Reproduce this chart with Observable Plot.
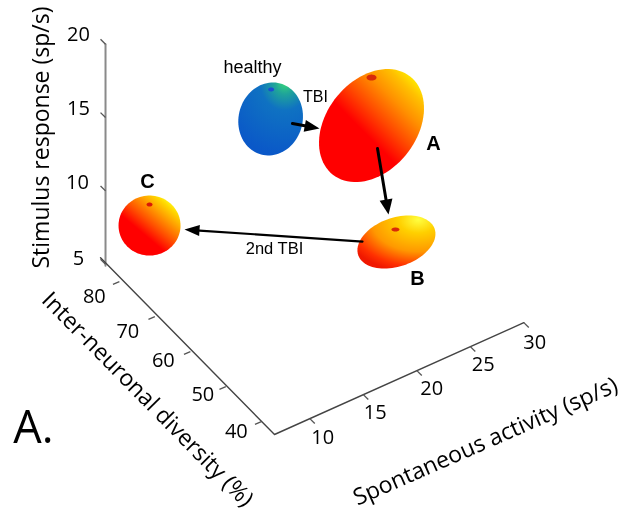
<!DOCTYPE html>
<html><head><meta charset="utf-8">
<style>html,body{margin:0;padding:0;background:#fff}svg{display:block}</style>
<script src="https://cdn.jsdelivr.net/npm/d3@7"></script>
<script src="https://cdn.jsdelivr.net/npm/@observablehq/plot@0.6"></script>
</head><body><div id="chart"></div>
<script>
// Data values
const groupNames = ["healthy", "A", "B", "C"];
const groupSpontaneous = [14.2, 21.97, 24.3, 7.86];
const groupDiversity = [60, 55, 55, 75];
const groupResponse = [18.15, 16.35, 7.65, 9.38];

const responseTicks = [5, 10, 15, 20];
const diversityTicks = [40, 50, 60, 70, 80];
const spontaneousTicks = [10, 15, 20, 25, 30];

const arrowStartSpontaneous = [16.24, 22.53, 21.13];
const arrowStartDiversity = [60, 55, 55];
const arrowStartResponse = [17.17, 14.6, 8.72];
const arrowEndSpontaneous = [18.77, 23.56, 11.13];
const arrowEndDiversity = [60, 55, 75];
const arrowEndResponse = [16.0, 9.77, 8.04];

// Oblique projection of the three chart axes on to the page plane
const W = 629, H = 517;
const S0 = 6.7, D0 = 36.3, R0 = 4.75, DMAX = 83.9;
const px = (S, D) => 274 + (S - S0) * 10.7 - (D - D0) * 3.55;
const py = (S, D, R) => 434 - (S - S0) * 4.8 - (D - D0) * 3.5 - (R - R0) * 14.67;
const at = (S, D, R) => ({x: px(S, D), y: py(S, D, R)});

// Ellipsoid silhouettes (drawing style, screen units)
const shapes = [
  {a: 36.8, b: 32, th: 75, spot: [0.5, -29.5], sr: [3, 2], spotFill: "#1a4fd0", fill: "url(#gH)"},
  {a: 62.5, b: 45.2, th: 51.8, spot: [0, -48], sr: [5, 3], spotFill: "#d82a08", fill: "url(#gA)"},
  {a: 40.4, b: 24.4, th: 19, spot: [-1, -12.5], sr: [4, 2], spotFill: "#d82a08", fill: "url(#gB)"},
  {a: 31, b: 30, th: 0, spot: [0, -21], sr: [3, 2], spotFill: "#d81808", fill: "url(#gC)"}
];
const outline = (cx, cy, a, b, th) => {
  const t = th * Math.PI / 180;
  return d3.range(90).map(i => {
    const u = i / 90 * 2 * Math.PI;
    return {x: cx + a * Math.cos(u) * Math.cos(t) - b * Math.sin(u) * Math.sin(t),
            y: cy - a * Math.cos(u) * Math.sin(t) - b * Math.sin(u) * Math.cos(t)};
  });
};

const defs = () => d3.create("svg:defs").html(`
  <radialGradient id="gH" cx="0.72" cy="0" r="1"><stop offset="0" stop-color="#38d878"/><stop offset="0.16" stop-color="#1fa49a"/><stop offset="0.38" stop-color="#0f72c2"/><stop offset="1" stop-color="#0a58c8"/></radialGradient>
  <linearGradient id="gA" x1="0.42" y1="0.55" x2="0.88" y2="0.06"><stop offset="0" stop-color="#ff0000"/><stop offset="0.3" stop-color="#ff4a00"/><stop offset="0.6" stop-color="#ff9000"/><stop offset="0.85" stop-color="#ffc000"/><stop offset="1" stop-color="#ffe800"/></linearGradient>
  <radialGradient id="gB" cx="0.78" cy="0.08" r="1"><stop offset="0" stop-color="#ffff40"/><stop offset="0.25" stop-color="#ffd000"/><stop offset="0.6" stop-color="#ff9800"/><stop offset="0.88" stop-color="#ff3000"/><stop offset="1" stop-color="#f01800"/></radialGradient>
  <linearGradient id="gC" x1="0.38" y1="0.62" x2="0.85" y2="0.08"><stop offset="0" stop-color="#ff0000"/><stop offset="0.3" stop-color="#ff5000"/><stop offset="0.62" stop-color="#ffa000"/><stop offset="0.85" stop-color="#ffd800"/><stop offset="1" stop-color="#ffff20"/></linearGradient>
`).node();

const marks = [defs];

// Ellipsoids
groupNames.forEach((n, i) => {
  const c = at(groupSpontaneous[i], groupDiversity[i], groupResponse[i]);
  const s = shapes[i];
  marks.push(Plot.line(outline(c.x, c.y, s.a, s.b, s.th), {x: "x", y: "y", curve: "linear-closed", fill: s.fill, stroke: "none"}));
  marks.push(Plot.line(outline(c.x + s.spot[0], c.y + s.spot[1], s.sr[0], s.sr[1], 0), {x: "x", y: "y", curve: "linear-closed", fill: s.spotFill, stroke: "none"}));
});

// Axes
marks.push(Plot.line([at(S0, DMAX, 20), at(S0, DMAX, R0 + 0.15)], {x: "x", y: "y", stroke: "#8a8a8a", strokeWidth: 2}));
marks.push(Plot.line([at(S0, DMAX + 1.4, R0 + 0.35), at(S0, D0, R0), at(30, D0, R0)], {x: "x", y: "y", stroke: "#444", strokeWidth: 1.4}));

const tick = (rows, from, to) => Plot.link(rows, {
  x1: d => from(d).x, y1: d => from(d).y, x2: d => to(d).x, y2: d => to(d).y, stroke: "#555", strokeWidth: 1.3
});
marks.push(tick(responseTicks, r => at(S0, DMAX, r), r => at(S0, DMAX + 1.4, r)));
marks.push(tick(diversityTicks, d => at(S0, d, R0), d => at(S0 - 0.6, d, R0)));
marks.push(tick(spontaneousTicks, s => at(s, D0, R0), s => at(s, D0 - 1.4, R0)));

// Tick labels
const tickFont = {fontFamily: "Open Sans", fontSize: 20, fill: "#000", textAnchor: "middle"};
const rOff = [[-27, -6], [-28, -8], [-27, -9], [-27, -10]];
const dOff = [[-25, 10], [-23, 8], [-27, 9], [-27, 15], [-25, 15]];
const sOff = [[13, 19], [12, 18], [15, 18], [13, 18], [11, 20]];
marks.push(Plot.text(responseTicks, {text: d => String(d), x: d => at(S0, DMAX, d).x + rOff[responseTicks.indexOf(d)][0], y: d => at(S0, DMAX, d).y + rOff[responseTicks.indexOf(d)][1], ...tickFont}));
marks.push(Plot.text(diversityTicks, {text: d => String(d), x: d => at(S0, d, R0).x + dOff[diversityTicks.indexOf(d)][0], y: d => at(S0, d, R0).y + dOff[diversityTicks.indexOf(d)][1], ...tickFont}));
marks.push(Plot.text(spontaneousTicks, {text: d => String(d), x: d => at(d, D0, R0).x + sOff[spontaneousTicks.indexOf(d)][0], y: d => at(d, D0, R0).y + sOff[spontaneousTicks.indexOf(d)][1], ...tickFont}));

// Arrows
const heads = [[15, 12], [15, 13], [15, 11]];
const shafts = [3, 3, 2.2];
arrowStartSpontaneous.forEach((_, i) => {
  const p = at(arrowStartSpontaneous[i], arrowStartDiversity[i], arrowStartResponse[i]);
  const q = at(arrowEndSpontaneous[i], arrowEndDiversity[i], arrowEndResponse[i]);
  const len = Math.hypot(q.x - p.x, q.y - p.y), ux = (q.x - p.x) / len, uy = (q.y - p.y) / len;
  const [hl, hw] = heads[i];
  const bx = q.x - ux * hl, by = q.y - uy * hl;
  marks.push(Plot.line([p, {x: bx, y: by}], {x: "x", y: "y", stroke: "#000", strokeWidth: shafts[i]}));
  marks.push(Plot.line([q, {x: bx - uy * hw / 2, y: by + ux * hw / 2}, {x: bx + uy * hw / 2, y: by - ux * hw / 2}],
    {x: "x", y: "y", curve: "linear-closed", fill: "#000", stroke: "none"}));
});

// Axis titles and annotations
const label = (text, x, y, o) => Plot.text([text], {x: () => x, y: () => y, text: d => d, textAnchor: "middle", fill: "#000", ...o});
const titleFont = {fontFamily: "Open Sans", fontSize: 23};
marks.push(label("Stimulus response (sp/s)", 41, 137, {...titleFont, rotate: -90}));
marks.push(label("Inter-neuronal diversity (%)", 147, 399, {...titleFont, rotate: 45.5}));
marks.push(label("Spontaneous activity (sp/s)", 485, 441, {...titleFont, rotate: -23.7}));
marks.push(label("A.", 33, 428, {fontFamily: "Open Sans", fontSize: 45}));
const armFont = {fontFamily: "Liberation Sans"};
marks.push(label("healthy", 252, 67, {...armFont, fontSize: 18}));
marks.push(label("TBI", 315, 96, {...armFont, fontSize: 16}));
marks.push(label("2nd TBI", 274, 248, {...armFont, fontSize: 16.5}));
marks.push(label("A", 433, 143, {...armFont, fontSize: 20, fontWeight: "bold"}));
marks.push(label("B", 417, 278, {...armFont, fontSize: 20, fontWeight: "bold"}));
marks.push(label("C", 147, 181, {...armFont, fontSize: 20, fontWeight: "bold"}));

document.getElementById("chart").append(Plot.plot({
  width: W, height: H, margin: 0,
  style: {background: "#fff", overflow: "visible", filter: "blur(0.4px)"},
  x: {domain: [0, W], range: [0, W], axis: null},
  y: {domain: [0, H], range: [0, H], axis: null},
  marks
}));
</script></body></html>
